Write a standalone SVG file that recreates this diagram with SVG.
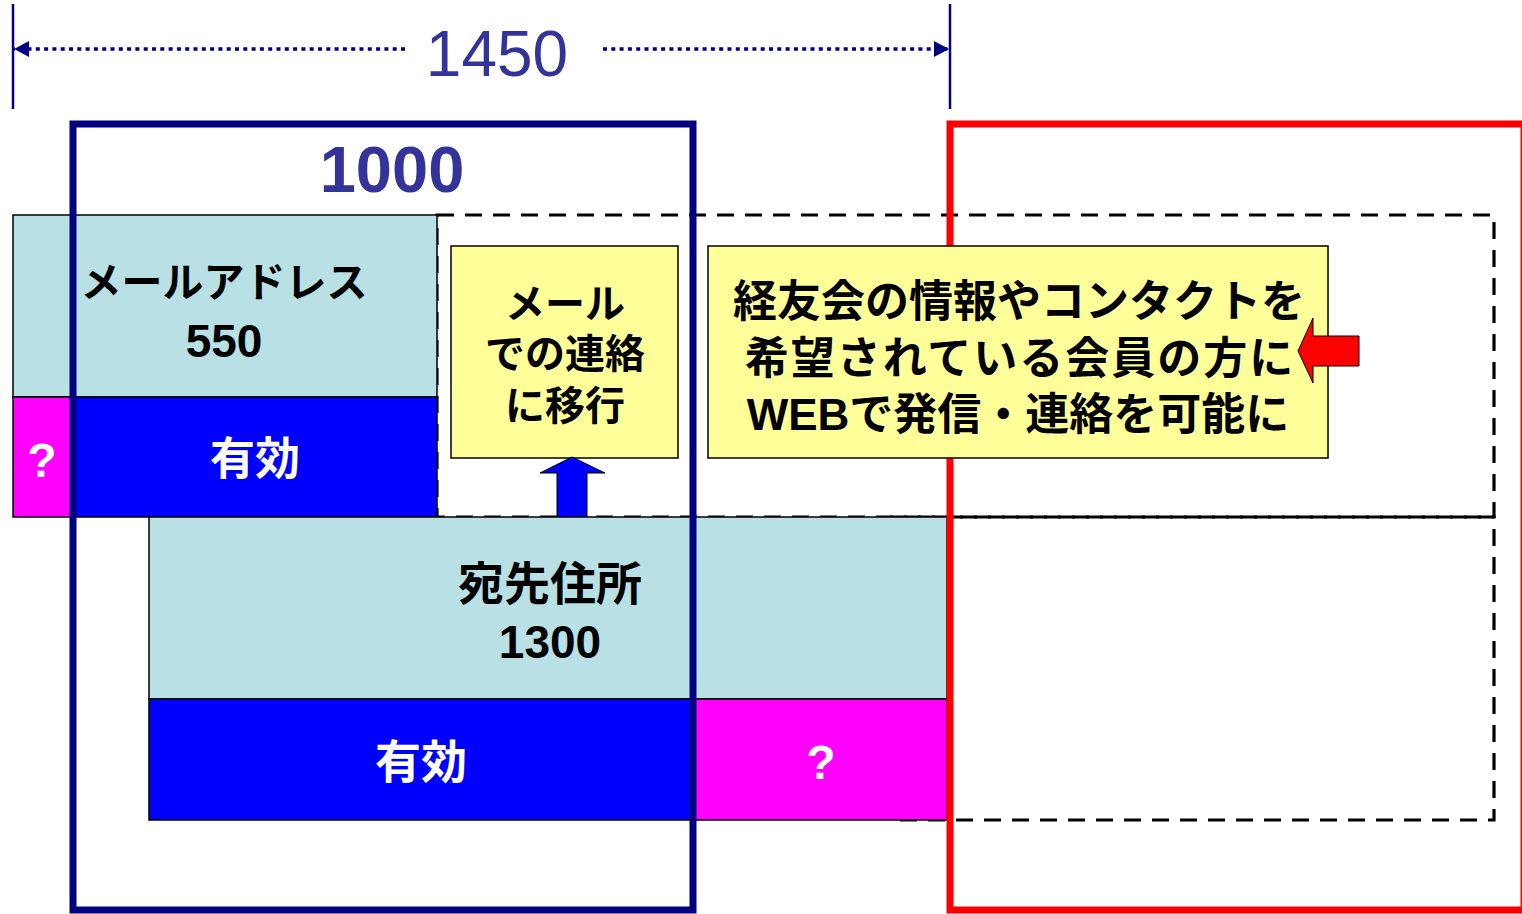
<svg xmlns="http://www.w3.org/2000/svg" width="1522" height="914" viewBox="0 0 1522 914">
<defs>
<style>
.t{font-family:"Liberation Sans","Noto Sans CJK JP",sans-serif;font-weight:bold;text-anchor:middle}
.bk{fill:#000}
.wh{fill:#fff}
.box{stroke:#000;stroke-width:1.5}
.dash{fill:none;stroke:#000;stroke-width:3.2;stroke-dasharray:17 11}
.dim{stroke:#000080;stroke-width:3.5;stroke-dasharray:4 4.3;fill:none}
</style>
<marker id="ah" viewBox="0 0 15 16" refX="15" refY="8" markerWidth="15" markerHeight="16" markerUnits="userSpaceOnUse" orient="auto">
<path d="M0,0 L15,8 L0,16 Z" fill="#000080"/>
</marker>
</defs>
<rect width="1522" height="914" fill="#fff"/>

<g id="dimension">
<line x1="13" y1="4" x2="13" y2="109" stroke="#000080" stroke-width="2.5"/>
<line x1="950" y1="4" x2="950" y2="109" stroke="#000080" stroke-width="2.5"/>
<line class="dim" x1="405" y1="49" x2="14" y2="49" marker-end="url(#ah)"/>
<line class="dim" x1="603" y1="49" x2="949" y2="49" marker-end="url(#ah)"/>
<text x="497" y="76" style="font-family:'Liberation Sans',sans-serif;font-size:64px;text-anchor:middle" fill="#333399">1450</text>
</g>

<g id="dashed-area">
<rect class="dash" x="437" y="215" width="1057" height="302"/>
<rect class="dash" x="890" y="517" width="604" height="303"/>
</g>

<g id="mail-address">
<rect class="box" x="13" y="215" width="424" height="182" fill="#B9E0E4"/>
<rect class="box" x="13" y="397" width="59" height="120" fill="#FF00FF"/>
<rect class="box" x="72" y="397" width="365" height="120" fill="#0000FF"/>
<text class="t bk" x="224" y="297" font-size="41">メールアドレス</text>
<text class="t bk" x="224" y="357" font-size="46">550</text>
<text class="t wh" x="255" y="475" font-size="45">有効</text>
<text class="t wh" x="42" y="477" font-size="48">?</text>
</g>

<g id="mail-transition">
<rect class="box" x="451" y="246" width="227" height="212" fill="#FFFF99"/>
<text class="t bk" x="565" y="318" font-size="40">メール</text>
<text class="t bk" x="565" y="368" font-size="40">での連絡</text>
<text class="t bk" x="565" y="420" font-size="40">に移行</text>
</g>

<g id="connectors">
<path d="M572,457 L605,473 L587,473 L587,517 L557,517 L557,473 L540,473 Z" fill="#0000FF" stroke="#000" stroke-width="1"/>
</g>

<g id="postal-address">
<rect class="box" x="149" y="517" width="798" height="182" fill="#B9E0E4"/>
<rect class="box" x="149" y="699" width="545" height="121" fill="#0000FF"/>
<rect class="box" x="694" y="699" width="253" height="121" fill="#FF00FF"/>
<text class="t bk" x="550" y="600" font-size="46">宛先住所</text>
<text class="t bk" x="550" y="658" font-size="46">1300</text>
<text class="t wh" x="421" y="778" font-size="46">有効</text>
<text class="t wh" x="821" y="779" font-size="48">?</text>
</g>

<g id="frame-1000">
<rect x="73" y="124" width="620" height="786" fill="none" stroke="#000080" stroke-width="7"/>
<text x="392" y="192" style="font-family:'Liberation Sans',sans-serif;font-weight:bold;font-size:65px;text-anchor:middle" fill="#333399">1000</text>
</g>

<g id="frame-new">
<rect x="950" y="124" width="574" height="786" fill="none" stroke="#FF0000" stroke-width="7"/>
</g>

<g id="web-box">
<rect class="box" x="708" y="246" width="620" height="212" fill="#FFFF99"/>
<text class="t bk" x="1019" y="317" font-size="44">経友会の情報やコンタクトを</text>
<text class="t bk" x="1020" y="374" font-size="44" letter-spacing="2">希望されている会員の方に</text>
<text class="t bk" x="1018" y="430" font-size="44">WEBで発信・連絡を可能に</text>
<path d="M1298,351 L1313,318 L1313,336 L1359,336 L1359,366 L1313,366 L1313,383 Z" fill="#FF0000" stroke="#000" stroke-width="1"/>
</g>
</svg>
